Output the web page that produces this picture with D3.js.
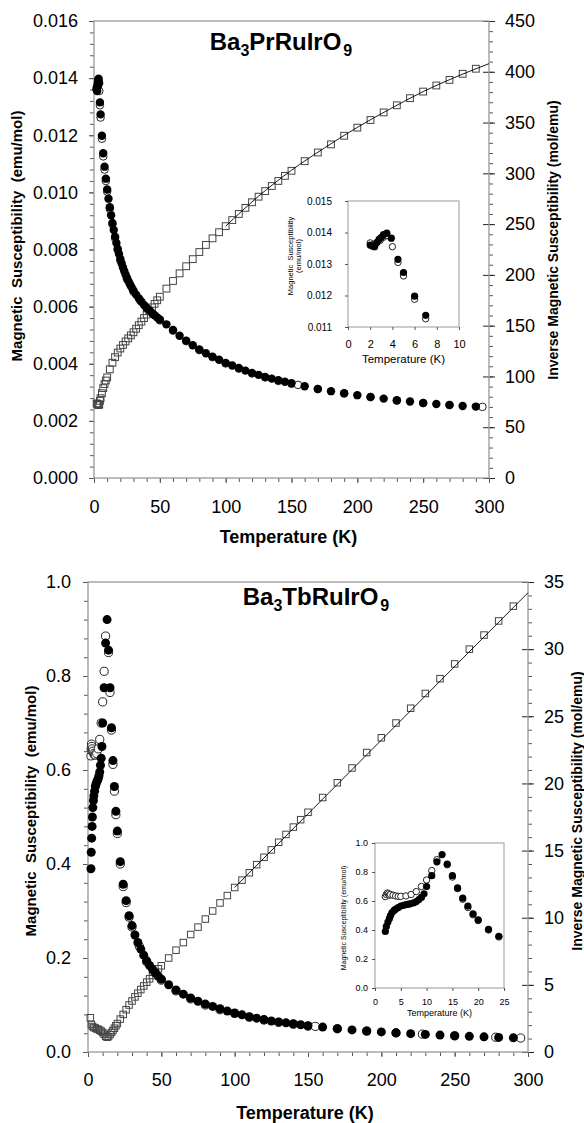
<!DOCTYPE html>
<html>
<head>
<meta charset="utf-8">
<script src="https://cdnjs.cloudflare.com/ajax/libs/d3/7.8.5/d3.min.js"></script>
<style>
    body { margin: 0; background: #fff; }
    svg { display: block; font-family: "Liberation Sans", Arial, sans-serif; }
</style>
</head>
<body>
<div id="chart"></div>
<script>
// ---- Ba3PrRuIrO9 ----
// filled circles (emu/mol)
let prT = [2.0, 2.2, 2.4, 2.6, 2.8, 3.0, 3.2, 3.5, 3.9, 4.5, 5, 6, 7, 8, 9,
    10, 11, 12, 13, 14, 15, 16, 17, 18, 19, 20, 21, 22, 23, 24, 25, 26, 27, 28, 29, 30,
    32, 34, 36, 38, 40, 42, 44, 46, 48, 50,
    55, 60, 65, 70, 75, 80, 85, 90, 95, 100, 105, 110, 115, 120, 125, 130, 135, 140, 145, 150,
    160, 170, 180, 190, 200, 210, 220, 230, 240, 250, 260, 270, 280, 290];
let prChi = [0.01360, 0.01357, 0.01355, 0.01368, 0.01378, 0.01385, 0.01393, 0.01398, 0.01382, 0.01315, 0.01273, 0.01198, 0.01137, 0.01090, 0.01048,
    0.01010, 0.00978, 0.00948, 0.00920, 0.00893, 0.00868, 0.00845, 0.00823, 0.00803, 0.00784, 0.00767, 0.00751, 0.00737, 0.00724, 0.00712, 0.00701, 0.00691, 0.00681, 0.00672, 0.00664, 0.00656,
    0.00642, 0.00629, 0.00617, 0.00606, 0.00596, 0.00587, 0.00578, 0.00570, 0.00562, 0.00555,
    0.00538, 0.00518, 0.00498, 0.00481, 0.00465, 0.00450, 0.00437, 0.00425, 0.00414, 0.00403, 0.00394, 0.00385, 0.00376, 0.00368, 0.00361, 0.00354, 0.00348, 0.00342, 0.00337, 0.00332,
    0.00321, 0.00312, 0.00304, 0.00297, 0.00290, 0.00284, 0.00278, 0.00272, 0.00268, 0.00263, 0.00259, 0.00256, 0.00252, 0.00250];
// open circles
let prOpenT = [2.0, 2.3, 2.6, 2.9, 3.2, 3.5, 4.0, 4.5, 5, 6, 7, 8, 9, 10,
    12, 14, 16, 18, 20, 25, 30, 35, 40, 45, 50,
    60, 70, 80, 90, 100, 110, 120, 130, 140, 150, 155, 170, 190, 210, 230, 250, 270, 295];
let prOpenChi = [0.01367, 0.01362, 0.01368, 0.01375, 0.01385, 0.01390, 0.01355, 0.01305, 0.01262, 0.01188, 0.01126, 0.01080, 0.01040, 0.01003,
    0.00942, 0.00888, 0.00840, 0.00798, 0.00762, 0.00697, 0.00652, 0.00622, 0.00593, 0.00573, 0.00552,
    0.00516, 0.00479, 0.00448, 0.00423, 0.00401, 0.00383, 0.00366, 0.00352, 0.00340, 0.00330, 0.00326, 0.00311, 0.00296, 0.00283, 0.00271, 0.00262, 0.00255, 0.00249];
// open squares, inverse susceptibility (mol/emu)
let prInvT = [2.0, 2.5, 3.0, 3.5, 4.0, 4.5, 5, 6, 7, 8, 9, 10,
    12, 14, 16, 18, 20, 22, 24, 26, 28, 30, 32, 34, 36, 38, 40, 42, 44, 46, 48, 50,
    55, 60, 65, 70, 75, 80, 85, 90, 95, 100, 105, 110, 115, 120, 125, 130, 135, 140, 145, 150,
    160, 170, 180, 190, 200, 210, 220, 230, 240, 250, 260, 270, 280, 290];
let prInv = [73.5, 73.0, 72.5, 71.8, 72.5, 76.0, 78.6, 83.5, 88.5, 92.5, 96.0, 99.0,
    107.0, 113.5, 119.0, 123.5, 127.5, 131.0, 134.5, 137.5, 140.5, 143.5, 147.0, 150.5, 154.0, 157.5, 161.0, 164.5, 168.0, 171.5, 175.0, 178.5,
    186.5, 194.0, 201.5, 208.5, 215.5, 222.5, 229.5, 236.0, 242.0, 248.0, 254.0, 260.0, 266.0, 271.5, 277.0, 282.5, 287.5, 292.5, 297.5, 302.5,
    312.0, 320.5, 328.5, 337.0, 345.0, 352.5, 360.0, 367.0, 374.0, 380.5, 386.5, 392.0, 398.0, 403.0];
// fit line
let prFitT = [100, 125, 150, 175, 200, 225, 250, 275, 300];
let prFitInv = [248, 277.5, 303, 325, 345.3, 363.5, 380.5, 395, 408];

// ---- Ba3TbRuIrO9 ----
let tbT = [2.0, 2.2, 2.5, 2.8, 3.0, 3.3, 3.7, 4.0, 4.5,
    5, 5.5, 6, 6.5, 7, 7.5, 8, 8.5, 9, 9.5, 10,
    11, 12, 13, 14, 15, 16, 17, 18, 19, 20,
    22, 24, 26, 28, 30, 32, 34, 36, 38, 40, 42, 44, 46, 48, 50,
    55, 60, 65, 70, 75, 80, 85, 90, 95, 100, 105, 110, 115, 120, 125, 130, 135, 140, 145, 150,
    160, 170, 180, 190, 200, 210, 220, 230, 240, 250, 260, 270, 280, 290];
let tbChi = [0.39, 0.425, 0.455, 0.48, 0.50, 0.52, 0.535, 0.545, 0.555,
    0.565, 0.57, 0.575, 0.578, 0.582, 0.588, 0.596, 0.61, 0.625, 0.65, 0.70,
    0.775, 0.87, 0.92, 0.855, 0.775, 0.69, 0.62, 0.565, 0.512, 0.47,
    0.405, 0.357, 0.322, 0.29, 0.269, 0.249, 0.233, 0.219, 0.206, 0.194, 0.184, 0.176, 0.168, 0.161, 0.155,
    0.143, 0.132, 0.123, 0.115, 0.108, 0.102, 0.097, 0.092, 0.087, 0.083, 0.079, 0.075, 0.072, 0.069, 0.066, 0.064, 0.062, 0.060, 0.058, 0.056,
    0.053, 0.0497, 0.047, 0.0447, 0.0427, 0.0408, 0.039, 0.0375, 0.036, 0.0346, 0.0333, 0.0322, 0.0311, 0.0301];
let tbOpenT = [2.0, 2.2, 2.4, 2.6, 2.8, 3.0,
    3.5, 4.0, 4.5, 5, 6, 7, 8, 9, 10, 11, 12,
    14, 15, 16, 17, 18, 19, 20,
    22, 24, 26, 28, 30, 35, 40, 45, 50,
    60, 70, 80, 90, 100, 110, 120, 130, 140, 150,
    155, 170, 190, 210, 228, 250, 278, 295];
let tbOpenChi = [0.63, 0.645, 0.655, 0.65, 0.64, 0.645,
    0.64, 0.635, 0.632, 0.632, 0.635, 0.645, 0.665, 0.70, 0.745, 0.81, 0.885,
    0.85, 0.765, 0.685, 0.612, 0.555, 0.505, 0.465,
    0.40, 0.352, 0.318, 0.287, 0.266, 0.225, 0.192, 0.171, 0.153,
    0.130, 0.113, 0.100, 0.090, 0.082, 0.074, 0.068, 0.063, 0.059, 0.055,
    0.0545, 0.0495, 0.0445, 0.0406, 0.038, 0.0344, 0.0315, 0.0297];
let tbInvT = [1.6, 2.3, 3, 4, 5, 6, 7, 8, 9, 10, 11, 12, 13, 14, 15, 16, 17, 18, 19, 20,
    22, 24, 26, 28, 30, 32, 34, 36, 38, 40, 42, 44, 46, 48, 50,
    55, 60, 65, 70, 75, 80, 85, 90, 95, 100, 105, 110, 115, 120, 125, 130, 135, 140, 145, 150,
    160, 170, 180, 190, 200, 210, 220, 230, 240, 250, 260, 270, 280, 290];
let tbInv = [2.55, 2.05, 1.9, 1.83, 1.78, 1.72, 1.68, 1.62, 1.55, 1.45, 1.33, 1.17, 1.1, 1.15, 1.3, 1.45, 1.6, 1.77, 1.95, 2.12,
    2.45, 2.8, 3.15, 3.5, 3.8, 4.1, 4.38, 4.65, 4.92, 5.2, 5.45, 5.7, 5.95, 6.2, 6.42,
    7.0, 7.58, 8.15, 8.75, 9.3, 9.9, 10.5, 11.1, 11.65, 12.25, 12.8, 13.35, 13.95, 14.5, 15.05, 15.62, 16.2, 16.75, 17.3, 17.85,
    18.95, 20.05, 21.15, 22.3, 23.4, 24.5, 25.6, 26.7, 27.8, 28.9, 30.0, 31.05, 32.1, 33.2];
let tbFitT = [100, 300];
let tbFitInv = [12.25, 34.2];

// ---- ticks ----
let tempTicks = [0, 50, 100, 150, 200, 250, 300];
let prChiTicks = [0, 0.002, 0.004, 0.006, 0.008, 0.010, 0.012, 0.014, 0.016];
let prInvTicks = [0, 50, 100, 150, 200, 250, 300, 350, 400, 450];
let tbChiTicks = [0, 0.2, 0.4, 0.6, 0.8, 1.0];
let tbInvTicks = [0, 5, 10, 15, 20, 25, 30, 35];
let prInsetTTicks = [0, 2, 4, 6, 8, 10];
let prInsetChiTicks = [0.011, 0.012, 0.013, 0.014, 0.015];
let tbInsetTTicks = [0, 5, 10, 15, 20, 25];
let tbInsetChiTicks = [0, 0.2, 0.4, 0.6, 0.8, 1.0];

let svg = d3.select("#chart")
    .append("svg")
    .attr("width", 584)
    .attr("height", 1123);

svg.append("rect").attr("width", 584).attr("height", 1123).attr("fill", "#fff");

function zip(ts, vs) {
    return ts.map((t, i) => ({t: t, v: vs[i]}));
}

function styleAxis(g, size, tickColor) {
    g.attr("font-family", null).attr("font-size", size);
    g.select(".domain").remove();
    g.selectAll(".tick line").attr("stroke", tickColor);
    g.selectAll(".tick text").attr("fill", "#000");
}

function drawMarkers(x, y, p) {
    // open squares
    svg.append("g").selectAll("rect")
        .data(zip(p.invT, p.inv))
        .join("rect")
        .attr("x", d => x(d.t) - p.sq / 2)
        .attr("y", d => p.y2(d.v) - p.sq / 2)
        .attr("width", p.sq)
        .attr("height", p.sq)
        .attr("fill", "none")
        .attr("stroke", "#444")
        .attr("stroke-width", 1);

    svg.append("path")
        .datum(zip(p.fitT, p.fitInv))
        .attr("fill", "none")
        .attr("stroke", "#000")
        .attr("stroke-width", 0.9)
        .attr("d", d3.line().x(d => x(d.t)).y(d => p.y2(d.v)).curve(d3.curveMonotoneX));
}

function drawCircles(x, y, openData, fillData, r) {
    svg.append("g").selectAll("circle")
        .data(openData)
        .join("circle")
        .attr("cx", d => x(d.t))
        .attr("cy", d => y(d.v))
        .attr("r", r - 0.4)
        .attr("fill", "#fff")
        .attr("stroke", "#222")
        .attr("stroke-width", 1);

    svg.append("g").selectAll("circle")
        .data(fillData)
        .join("circle")
        .attr("cx", d => x(d.t))
        .attr("cy", d => y(d.v))
        .attr("r", r)
        .attr("fill", "#000");
}

function drawMain(p) {
    let x = d3.scaleLinear().domain([0, 300]).range([p.left, p.right]);
    let y = d3.scaleLinear().domain(p.chiDomain).range([p.bottom, p.top]);
    p.y2 = d3.scaleLinear().domain(p.invDomain).range([p.bottom, p.top]);

    // minor ticks
    let gl = svg.append("g").attr("transform", "translate(" + p.left + ",0)")
        .call(d3.axisLeft(y).tickValues(d3.range(p.chiDomain[0], p.chiDomain[1] + p.chiMinor / 2, p.chiMinor)).tickSize(4).tickFormat(""));
    styleAxis(gl, 18, "#555");
    let gr = svg.append("g").attr("transform", "translate(" + p.right + ",0)")
        .call(d3.axisRight(p.y2).tickValues(d3.range(0, p.invDomain[1] + p.invMinor / 2, p.invMinor)).tickSize(4).tickFormat(""));
    styleAxis(gr, 18, "#555");
    let gb = svg.append("g").attr("transform", "translate(0," + p.bottom + ")")
        .call(d3.axisBottom(x).tickValues(d3.range(0, 301, 10)).tickSize(4).tickFormat(""));
    styleAxis(gb, 18, "#555");

    // major ticks + labels
    let gl2 = svg.append("g").attr("transform", "translate(" + p.left + ",0)")
        .call(d3.axisLeft(y).tickValues(p.chiTicks).tickSize(5).tickPadding(p.leftPad).tickFormat(d3.format(p.chiFormat)));
    styleAxis(gl2, 18, "#555");
    let gr2 = svg.append("g").attr("transform", "translate(" + p.right + ",0)")
        .call(d3.axisRight(p.y2).tickValues(p.invTicks).tickSize(6).tickPadding(p.rightPad));
    styleAxis(gr2, 18, "#222");
    gr2.selectAll(".tick line").attr("x1", -6);
    let gb2 = svg.append("g").attr("transform", "translate(0," + p.bottom + ")")
        .call(d3.axisBottom(x).tickValues(tempTicks).tickSize(5).tickPadding(p.bottomPad));
    styleAxis(gb2, 18, "#555");

    // frame
    svg.append("rect")
        .attr("x", p.left).attr("y", p.top)
        .attr("width", p.right - p.left).attr("height", p.bottom - p.top)
        .attr("fill", "none").attr("stroke", "#999").attr("stroke-width", 1.3);

    drawMarkers(x, y, p);
    drawCircles(x, y, zip(p.openT, p.openChi), zip(p.t, p.chi), p.r);

    // titles
    let title = svg.append("text")
        .attr("x", p.titleX).attr("y", p.titleY)
        .attr("text-anchor", "middle")
        .attr("font-weight", "bold")
        .attr("font-size", 24);
    title.append("tspan").text("Ba");
    title.append("tspan").attr("font-size", 16).attr("dy", 6).text("3");
    title.append("tspan").attr("dy", -6).text(p.titleMid);
    title.append("tspan").attr("font-size", 16).attr("dy", 6).attr("dx", 2).text("9");

    svg.append("text")
        .attr("x", (p.left + p.right) / 2 - 3).attr("y", p.xTitleY)
        .attr("text-anchor", "middle")
        .attr("font-weight", "bold")
        .attr("font-size", 18)
        .text("Temperature (K)");

    svg.append("text")
        .attr("transform", "translate(" + p.yTitleX + "," + p.yTitleY + ") rotate(-90)")
        .attr("text-anchor", "middle")
        .attr("dy", "0.35em")
        .attr("font-weight", "bold")
        .attr("font-size", 15)
        .attr("xml:space", "preserve")
        .text("Magnetic  Susceptibility  (emu/mol)");

    svg.append("text")
        .attr("transform", "translate(" + p.y2TitleX + "," + p.y2TitleY + ") rotate(-90)")
        .attr("text-anchor", "middle")
        .attr("dy", "0.35em")
        .attr("font-weight", "bold")
        .attr("font-size", 14)
        .text("Inverse Magnetic Susceptibility (mol/emu)");
}

function drawInset(q) {
    let x = d3.scaleLinear().domain(q.tDomain).range([q.left, q.right]);
    let y = d3.scaleLinear().domain(q.chiDomain).range([q.bottom, q.top]);

    svg.append("rect")
        .attr("x", q.left).attr("y", q.top)
        .attr("width", q.right - q.left).attr("height", q.bottom - q.top)
        .attr("fill", "#fff").attr("stroke", "#999").attr("stroke-width", 1);

    let gl = svg.append("g").attr("transform", "translate(" + q.left + ",0)")
        .call(d3.axisLeft(y).tickValues(q.chiTicks).tickSize(3).tickPadding(q.leftPad).tickFormat(d3.format(q.chiFormat)));
    styleAxis(gl, q.ySize, "#555");
    let gb = svg.append("g").attr("transform", "translate(0," + q.bottom + ")")
        .call(d3.axisBottom(x).tickValues(q.tTicks).tickSize(3).tickPadding(q.bottomPad));
    styleAxis(gb, q.xSize, "#555");

    let inRange = d => d.t <= q.tDomain[1] && d.v >= q.chiDomain[0] && d.v <= q.chiDomain[1];
    drawCircles(x, y, zip(q.openT, q.openChi).filter(inRange), zip(q.t, q.chi).filter(inRange), q.r);

    svg.append("text")
        .attr("x", (q.left + q.right) / 2).attr("y", q.xTitleY)
        .attr("text-anchor", "middle")
        .attr("font-size", q.xTitleSize)
        .text("Temperature (K)");

    q.yTitle.forEach((line, i) => {
        svg.append("text")
            .attr("transform", "translate(" + (q.yTitleX + i * q.yTitleStep) + "," + q.yTitleY + ") rotate(-90)")
            .attr("text-anchor", "middle")
            .attr("dy", "0.35em")
            .attr("font-size", q.yTitleSize)
            .attr("xml:space", "preserve")
            .text(line);
    });
}

drawMain({
    left: 94, right: 489, top: 21, bottom: 478,
    chiDomain: [0, 0.016], chiMinor: 0.0004, chiTicks: prChiTicks, chiFormat: ".3f",
    invDomain: [0, 450], invMinor: 10, invTicks: prInvTicks,
    leftPad: 11, rightPad: 10, bottomPad: 17,
    t: prT, chi: prChi, openT: prOpenT, openChi: prOpenChi,
    invT: prInvT, inv: prInv, fitT: prFitT, fitInv: prFitInv,
    r: 4.2, sq: 6.8,
    titleX: 281, titleY: 50, titleMid: "PrRuIrO",
    xTitleY: 543, yTitleX: 17, yTitleY: 236, y2TitleX: 553, y2TitleY: 240
});

drawInset({
    left: 348, right: 459, top: 201, bottom: 327,
    tDomain: [0, 10], chiDomain: [0.011, 0.015],
    tTicks: prInsetTTicks, chiTicks: prInsetChiTicks, chiFormat: ".3f",
    leftPad: 13, bottomPad: 10, ySize: 10, xSize: 11,
    t: prT, chi: prChi, openT: prOpenT, openChi: prOpenChi, r: 3.6,
    xTitleY: 363, xTitleSize: 11.5,
    yTitle: ["Magnetic  Susceptibility", "(emu/mol)"], yTitleX: 290, yTitleStep: 8, yTitleY: 256, yTitleSize: 7.5
});

drawMain({
    left: 88, right: 528, top: 582, bottom: 1052,
    chiDomain: [0, 1.0], chiMinor: 0.04, chiTicks: tbChiTicks, chiFormat: ".1f",
    invDomain: [0, 35], invMinor: 1, invTicks: tbInvTicks,
    leftPad: 12, rightPad: 10, bottomPad: 16,
    t: tbT, chi: tbChi, openT: tbOpenT, openChi: tbOpenChi,
    invT: tbInvT, inv: tbInv, fitT: tbFitT, fitInv: tbFitInv,
    r: 4.5, sq: 6.5,
    titleX: 316, titleY: 605, titleMid: "TbRuIrO",
    xTitleY: 1119, yTitleX: 31, yTitleY: 811, y2TitleX: 577, y2TitleY: 811
});

drawInset({
    left: 375, right: 504, top: 843, bottom: 988,
    tDomain: [0, 25], chiDomain: [0, 1.0],
    tTicks: tbInsetTTicks, chiTicks: tbInsetChiTicks, chiFormat: ".1f",
    leftPad: 4, bottomPad: 8, ySize: 9, xSize: 9,
    t: tbT, chi: tbChi, openT: tbOpenT, openChi: tbOpenChi, r: 3.6,
    xTitleY: 1016, xTitleSize: 9,
    yTitle: ["Magnetic Susceptibility (emu/mol)"], yTitleX: 344, yTitleStep: 0, yTitleY: 918, yTitleSize: 7
});
</script>
</body>
</html>
